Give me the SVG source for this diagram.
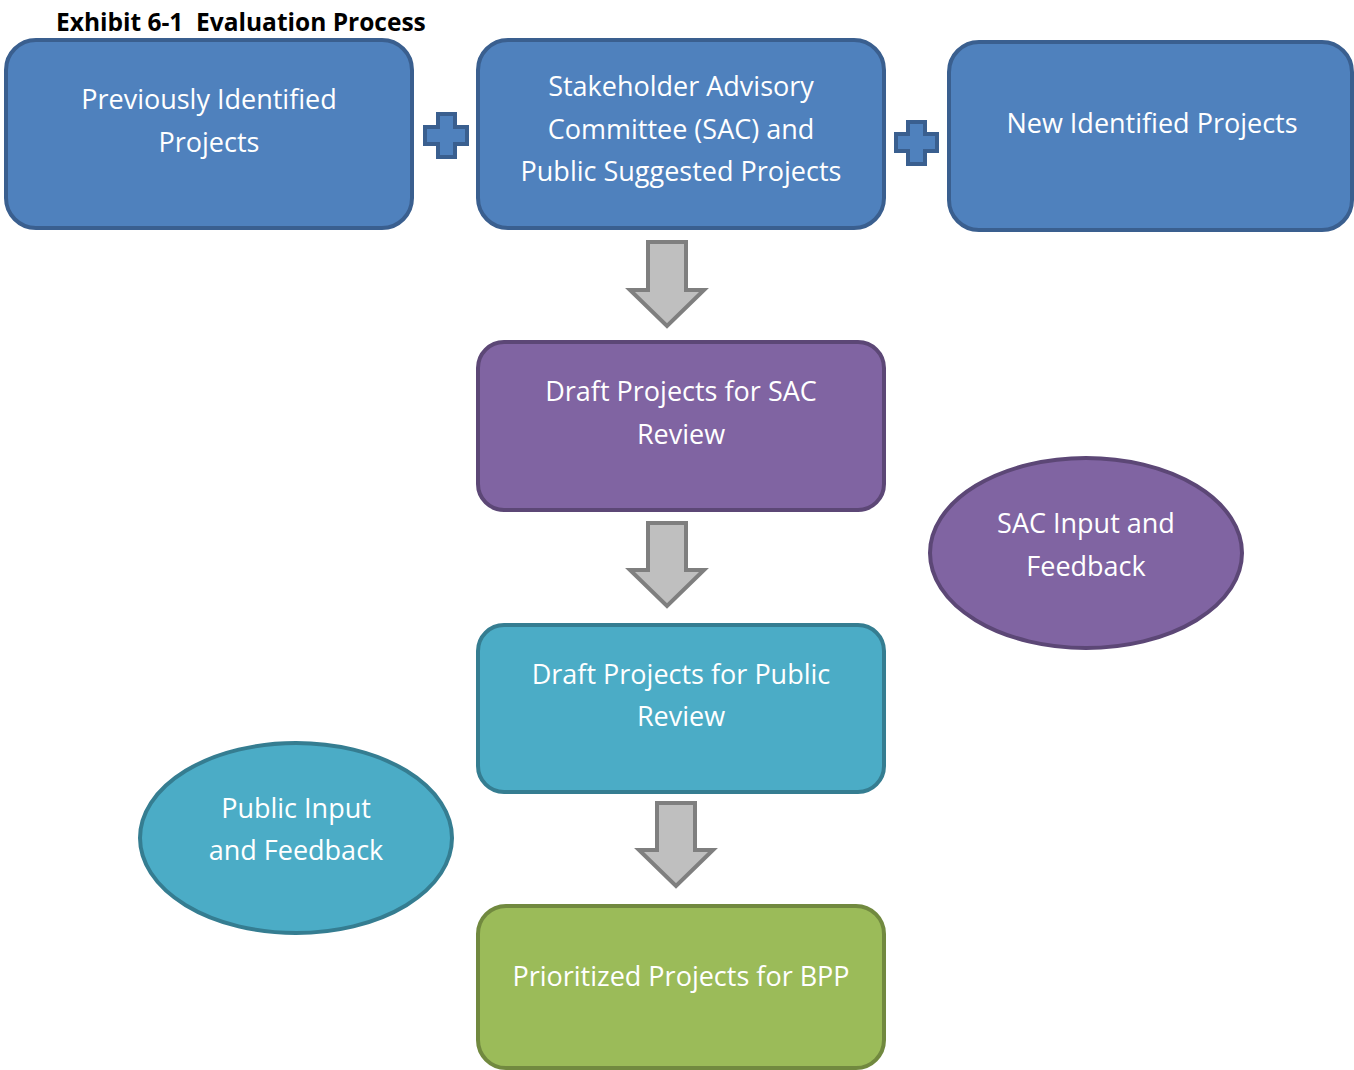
<svg xmlns="http://www.w3.org/2000/svg" width="1354" height="1070" viewBox="0 0 1354 1070">
<style>
.t{font-family:"Open Sans","Noto Sans","Liberation Sans",sans-serif;font-size:27px;fill:#fff;text-anchor:middle}
.title{font-family:"Open Sans","Liberation Sans",sans-serif;font-size:24.5px;font-weight:bold;fill:#000;white-space:pre}
.blue{fill:#4f81bd;stroke:#3a5f8f;stroke-width:4}
.purple{fill:#8064a2;stroke:#5c4776;stroke-width:4}
.teal{fill:#4bacc6;stroke:#357d91;stroke-width:4}
.green{fill:#9bbb59;stroke:#71893f;stroke-width:4}
.arrow{fill:#bfbfbf;stroke:#7f7f7f;stroke-width:4;stroke-linejoin:miter}
.plus{fill:#4f81bd;stroke:#3a5f8f;stroke-width:4}
</style>
<rect width="1354" height="1070" fill="#fff"/>
<text class="title" x="56" y="31" xml:space="preserve">Exhibit 6-1  Evaluation Process</text>

<g id="previously">
<rect class="blue" x="6" y="40" width="406" height="188" rx="30"/>
<text class="t" x="209" y="109">Previously Identified</text>
<text class="t" x="209" y="152">Projects</text>
</g>
<g id="sac-public">
<rect class="blue" x="478" y="40" width="406" height="188" rx="30"/>
<text class="t" x="681" y="96">Stakeholder Advisory</text>
<text class="t" x="681" y="139">Committee (SAC) and</text>
<text class="t" x="681" y="181">Public Suggested Projects</text>
</g>
<g id="new">
<rect class="blue" x="949" y="42" width="403" height="188" rx="30"/>
<text class="t" x="1152" y="133">New Identified Projects</text>
</g>
<g id="draft-sac">
<rect class="purple" x="478" y="342" width="406" height="168" rx="26"/>
<text class="t" x="681" y="401">Draft Projects for SAC</text>
<text class="t" x="681" y="444">Review</text>
</g>
<g id="sac-input">
<ellipse class="purple" cx="1086" cy="553" rx="156" ry="95"/>
<text class="t" x="1086" y="533">SAC Input and</text>
<text class="t" x="1086" y="576">Feedback</text>
</g>
<g id="draft-public">
<rect class="teal" x="478" y="625" width="406" height="167" rx="26"/>
<text class="t" x="681" y="684">Draft Projects for Public</text>
<text class="t" x="681" y="726">Review</text>
</g>
<g id="public-input">
<ellipse class="teal" cx="296" cy="838" rx="156" ry="95"/>
<text class="t" x="296" y="818">Public Input</text>
<text class="t" x="296" y="860">and Feedback</text>
</g>
<g id="prioritized">
<rect class="green" x="478" y="906" width="406" height="162" rx="28"/>
<text class="t" x="681" y="986">Prioritized Projects for BPP</text>
</g>

<g id="connectors">
<path class="plus" d="M438,114 H455 V127 H467 V144 H455 V157 H438 V144 H425 V127 H438 Z"/>
<path class="plus" d="M908,122 H925 V134 H937 V151 H925 V164 H908 V151 H896 V134 H908 Z"/>
<path class="arrow" d="M648,242 H686 V290 H704 L667,326 L630,290 H648 Z"/>
<path class="arrow" d="M648,523 H686 V570 H704 L667,606 L630,570 H648 Z"/>
<path class="arrow" d="M657,803 H695 V850 H713 L676,886 L639,850 H657 Z"/>
</g>
</svg>
